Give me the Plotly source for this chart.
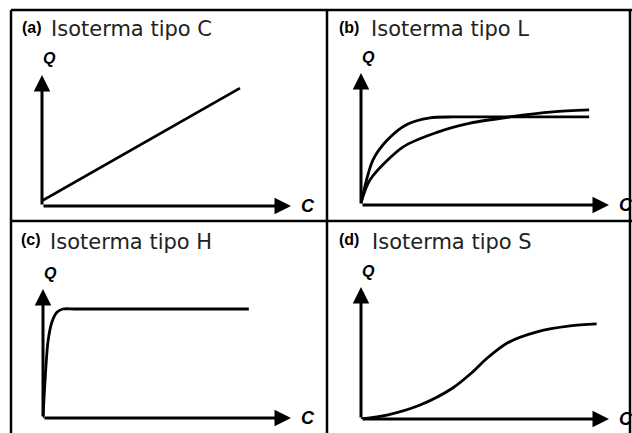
import plotly.graph_objects as go

# panel titles
titles = ["Isoterma tipo C", "Isoterma tipo L", "Isoterma tipo H", "Isoterma tipo S"]
letters = ["(a)", "(b)", "(c)", "(d)"]

# curves (C on x, Q on y, arbitrary units 0-10)
c_x = [0, 7.95]
c_y = [0.4, 9.0]

l1_x = [0, 0.48, 1.05, 1.85, 2.78, 3.7, 5.5, 9.2]
l1_y = [0.15, 3.4, 4.9, 6.1, 6.6, 6.67, 6.67, 6.67]
l2_x = [0, 0.36, 1.7, 3.06, 4.4, 6.0, 7.74, 9.2]
l2_y = [0.15, 1.9, 4.4, 5.5, 6.2, 6.67, 7.05, 7.2]

h_x = [0, 0.08, 0.2, 0.36, 0.56, 0.8, 1.3, 4.0, 8.3]
h_y = [0, 2.8, 5.9, 7.44, 8.2, 8.45, 8.45, 8.45, 8.45]

s_x = [0, 1.05, 2.38, 3.7, 4.5, 5.08, 5.9, 7.1, 8.43, 9.5]
s_y = [0, 0.3, 1.06, 2.35, 3.56, 4.6, 5.76, 6.6, 7.05, 7.2]

W, H = 632, 433
# pixel origin, x-arrow tip, y-arrow tip for each panel
panels = [
    dict(ox=42, oy=206, xt=291, yt=75),
    dict(ox=361, oy=205, xt=609, yt=73),
    dict(ox=43, oy=418, xt=291, yt=289),
    dict(ox=361, oy=419, xt=609, yt=287),
]
curves = [
    [(c_x, c_y)],
    [(l1_x, l1_y), (l2_x, l2_y)],
    [(h_x, h_y)],
    [(s_x, s_y)],
]
title_pos = [(20, 49, 29), (337, 369, 29), (19, 48, 242), (337, 370, 242)]

def px(p):
    return p / W

def py(p):
    return 1 - p / H

fig = go.Figure()
layout = dict()
annotations = []
shapes = []

for i, p in enumerate(panels):
    n = "" if i == 0 else str(i + 1)
    layout["xaxis" + n] = dict(domain=[px(p["ox"]), px(p["xt"])], range=[0, 10],
                               visible=False, fixedrange=True, anchor="y" + n)
    layout["yaxis" + n] = dict(domain=[py(p["oy"]), py(p["yt"])], range=[0, 10],
                               visible=False, fixedrange=True, anchor="x" + n)
    for cx, cy in curves[i]:
        fig.add_trace(go.Scatter(x=cx, y=cy, mode="lines", xaxis="x" + n, yaxis="y" + n,
                                 line=dict(color="black", width=2.8, shape="spline", smoothing=0.8),
                                 showlegend=False, hoverinfo="skip", cliponaxis=False))
    # axis arrows
    for tip in [(10, 0), (0, 10)]:
        annotations.append(dict(x=tip[0], y=tip[1], ax=0, ay=0, xref="x" + n, yref="y" + n,
                                axref="x" + n, ayref="y" + n, showarrow=True, text="",
                                arrowhead=2, arrowsize=1.1, arrowwidth=3, arrowcolor="black"))
    # Q and C labels
    annotations.append(dict(x=px(p["ox"] + 7), y=py(p["yt"] - 16), xref="paper", yref="paper",
                            xanchor="center", yanchor="middle",
                            text="<b><i>Q</i></b>", showarrow=False,
                            font=dict(family="Arial", size=16, color="black")))
    annotations.append(dict(x=px(p["xt"] + 17), y=py(p["oy"]), xref="paper", yref="paper",
                            xanchor="center", yanchor="middle",
                            text="<b><i>C</i></b>", showarrow=False,
                            font=dict(family="Arial", size=18, color="black")))
    # titles
    lx, tx, ty = title_pos[i]
    annotations.append(dict(x=px(lx), y=py(ty - 2), xref="paper", yref="paper",
                            xanchor="left", yanchor="middle",
                            text="<b>" + letters[i] + "</b>", showarrow=False,
                            font=dict(family="Arial", size=16, color="black")))
    annotations.append(dict(x=px(tx), y=py(ty), xref="paper", yref="paper",
                            xanchor="left", yanchor="middle",
                            text=titles[i], showarrow=False,
                            font=dict(family="DejaVu Sans", size=21, color="#222222")))

# panel frame
frame = [
    (11, 10, 632, 10), (11, 10, 11, 433), (327, 10, 327, 433),
    (11, 221, 632, 221), (630, 10, 630, 433),
]
for x0, y0, x1, y1 in frame:
    shapes.append(dict(type="line", xref="paper", yref="paper",
                       x0=px(x0), y0=py(y0), x1=px(x1), y1=py(y1),
                       line=dict(color="black", width=2.5)))

fig.update_layout(
    width=W, height=H,
    margin=dict(l=0, r=0, t=0, b=0),
    plot_bgcolor="white", paper_bgcolor="white",
    annotations=annotations, shapes=shapes,
    **layout
)

# drop the default page margin so the figure fills the window
fig.write_html("out.html", config={"displayModeBar": False},
               post_script="document.body.style.margin='0';")
